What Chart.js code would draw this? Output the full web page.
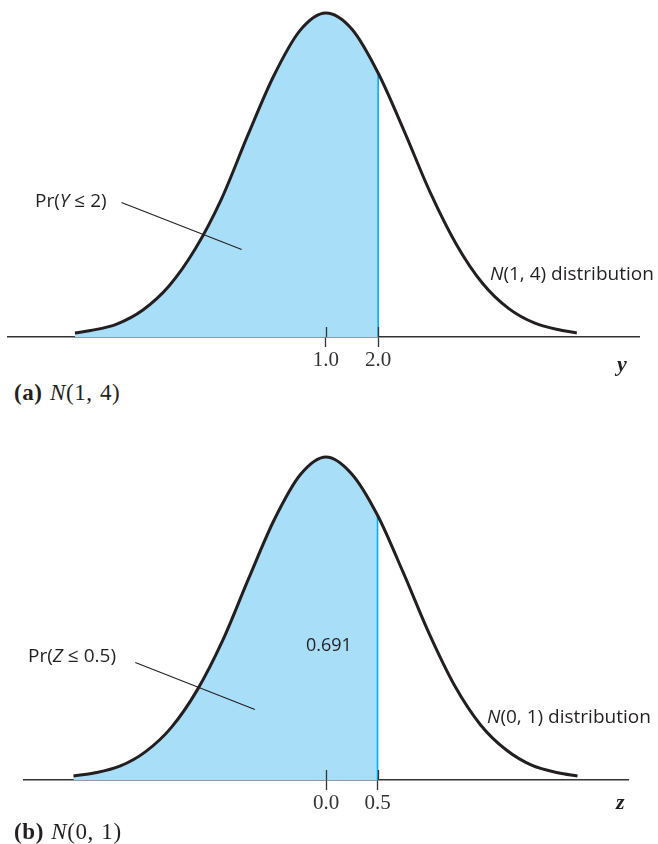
<!DOCTYPE html>
<html lang="en">
<head>
<meta charset="UTF-8">
<title>Normal distributions</title>
<script src="https://cdn.jsdelivr.net/npm/chart.js@4.4.1/dist/chart.umd.min.js"></script>
<style>
  body { margin: 0; background: #fff; }
  .page { position: relative; width: 658px; height: 844px; overflow: hidden; }
  canvas { position: absolute; left: 0; }
  .txt { position: absolute; font-family: "Open Sans", "Noto Sans", sans-serif; font-size: 19px; color: #231f20; white-space: nowrap; line-height: 1; }
  .cap { position: absolute; font-family: "Liberation Serif", serif; font-size: 23px; color: #231f20; white-space: nowrap; line-height: 1; word-spacing: 1px; letter-spacing: 0.6px; }
  .axlab { position: absolute; font-family: "Liberation Serif", serif; font-size: 22px; font-weight: bold; font-style: italic; color: #231f20; line-height: 1; }
</style>
</head>
<body>
<div class="page">
  <canvas id="chartA" width="658" height="380" style="top:0"></canvas>
  <canvas id="chartB" width="658" height="380" style="top:443px"></canvas>

  <div class="txt" style="left:35px; top:191px">Pr(<i>Y</i> ≤ 2)</div>
  <div class="txt" style="left:490px; top:264px"><i>N</i>(1, 4) distribution</div>
  <div class="axlab" style="left:617px; top:353px">y</div>
  <div class="cap" style="left:14px; top:381px"><b>(a)</b> <i>N</i>(1, 4)</div>

  <div class="txt" style="left:28px; top:646px">Pr(<i>Z</i> ≤ 0.5)</div>
  <div class="txt" style="left:306px; top:635px; font-size:18px">0.691</div>
  <div class="txt" style="left:487px; top:707px"><i>N</i>(0, 1) distribution</div>
  <div class="axlab" style="left:616px; top:791px">z</div>
  <div class="cap" style="left:14px; top:820px"><b>(b)</b> <i>N</i>(0, 1)</div>
</div>

<script>
// panel (a): Y ~ N(1, 4), density
const yValues  = [-3.8, -3.5, -3.0, -2.5, -2.0, -1.5, -1.0, -0.5, 0.0, 0.5, 1.0, 1.5, 2.0, 2.5, 3.0, 3.5, 4.0, 4.5, 5.0, 5.5, 5.8];
const densityA = [0.0025, 0.004, 0.008, 0.0167, 0.0315, 0.0543, 0.085, 0.124, 0.161, 0.189, 0.200, 0.190, 0.163, 0.127, 0.089, 0.057, 0.033, 0.0175, 0.0085, 0.0042, 0.0025];
const cutA = 2.0;
const ticksA = [1.0, 2.0];
const leaderA = { x: [-2.91, -0.61], y: [0.083, 0.054] };

// panel (b): Z ~ N(0, 1)
const zValues  = [-2.45, -2.25, -2.0, -1.75, -1.5, -1.25, -1.0, -0.75, -0.5, -0.25, 0.0, 0.25, 0.5, 0.75, 1.0, 1.25, 1.5, 1.75, 2.0, 2.25, 2.44];
const densityB = [0.005, 0.0086, 0.017, 0.035, 0.065, 0.111, 0.173, 0.249, 0.322, 0.377, 0.399, 0.378, 0.327, 0.256, 0.181, 0.116, 0.068, 0.037, 0.018, 0.009, 0.005];
const cutB = 0.5;
const ticksB = [0.0, 0.5];
const leaderB = { x: [-1.85, -0.69], y: [0.145, 0.087] };

const FILL = '#a9def9';
const CYAN = '#00aeef';
const INK = '#231f20';

// upper half of the tick marks (chart.js only draws them below the axis)
const innerTicks = {
  id: 'innerTicks',
  afterDraw(chart) {
    const sx = chart.scales.x;
    const ctx = chart.ctx;
    const b = chart.chartArea.bottom;
    ctx.save();
    ctx.strokeStyle = '#333';
    ctx.lineWidth = 1.3;
    sx.ticks.forEach(t => {
      const x = Math.round(sx.getPixelForValue(t.value)) + 0.5;
      ctx.beginPath();
      ctx.moveTo(x, b - 10);
      ctx.lineTo(x, b);
      ctx.stroke();
    });
    ctx.restore();
  }
};

function makeChart(id, xs, dens, cut, tickVals, leader, xmin, xmax, ymax, pad) {
  const curve = xs.map((x, i) => ({ x: x, y: dens[i] }));
  const cutY = dens[xs.indexOf(cut)];
  return new Chart(document.getElementById(id), {
    type: 'line',
    data: {
      datasets: [
        {
          // leader line of the Pr(...) label
          data: leader.x.map((x, i) => ({ x: x, y: leader.y[i] })),
          borderColor: INK, borderWidth: 1.1, pointRadius: 0, tension: 0, fill: false, order: 0
        },
        {
          data: curve,
          borderColor: INK, borderWidth: 3, pointRadius: 0,
          cubicInterpolationMode: 'monotone',
          fill: 'origin',
          backgroundColor: (c) => {
            const ch = c.chart, area = ch.chartArea;
            if (!area) return FILL;
            const px = ch.scales.x.getPixelForValue(cut);
            const f = Math.min(1, Math.max(0, (px - area.left) / (area.right - area.left)));
            const g = ch.ctx.createLinearGradient(area.left, 0, area.right, 0);
            g.addColorStop(0, FILL);
            g.addColorStop(f, FILL);
            g.addColorStop(f, 'rgba(255,255,255,0)');
            g.addColorStop(1, 'rgba(255,255,255,0)');
            return g;
          },
          order: 1
        },
        {
          // edge of the shaded area
          data: [{ x: cut, y: 0 }, { x: cut, y: cutY }],
          borderColor: CYAN, borderWidth: 1.6, pointRadius: 0, tension: 0, fill: false, order: 2
        }
      ]
    },
    options: {
      responsive: false,
      animation: false,
      layout: { padding: pad },
      plugins: {
        legend: { display: false },
        tooltip: { enabled: false },
        filler: { drawTime: 'beforeDatasetsDraw' }
      },
      scales: {
        x: {
          type: 'linear',
          min: xmin, max: xmax,
          afterBuildTicks: (s) => { s.ticks = tickVals.map(v => ({ value: v })); },
          afterFit: (s) => { s.height = 35; },
          grid: { drawOnChartArea: false, tickLength: 10, tickColor: '#333', tickWidth: 1.3 },
          border: { display: true, color: '#333', width: 1.5 },
          ticks: {
            autoSkip: false, maxRotation: 0, padding: 1,
            color: '#333',
            font: { family: 'Liberation Serif', size: 21 },
            callback: (v) => Number(v).toFixed(1)
          }
        },
        y: { display: false, min: 0, max: ymax }
      }
    },
    plugins: [innerTicks]
  });
}

makeChart('chartA', yValues, densityA, cutA, ticksA, leaderA, -5.08, 6.99, 0.205,
  { left: 8, right: 19, top: 5, bottom: 8 });
makeChart('chartB', zValues, densityB, cutB, ticksB, leaderB, -2.93, 2.93, 0.410,
  { left: 24, right: 30, top: 5, bottom: 8 });
</script>
</body>
</html>
